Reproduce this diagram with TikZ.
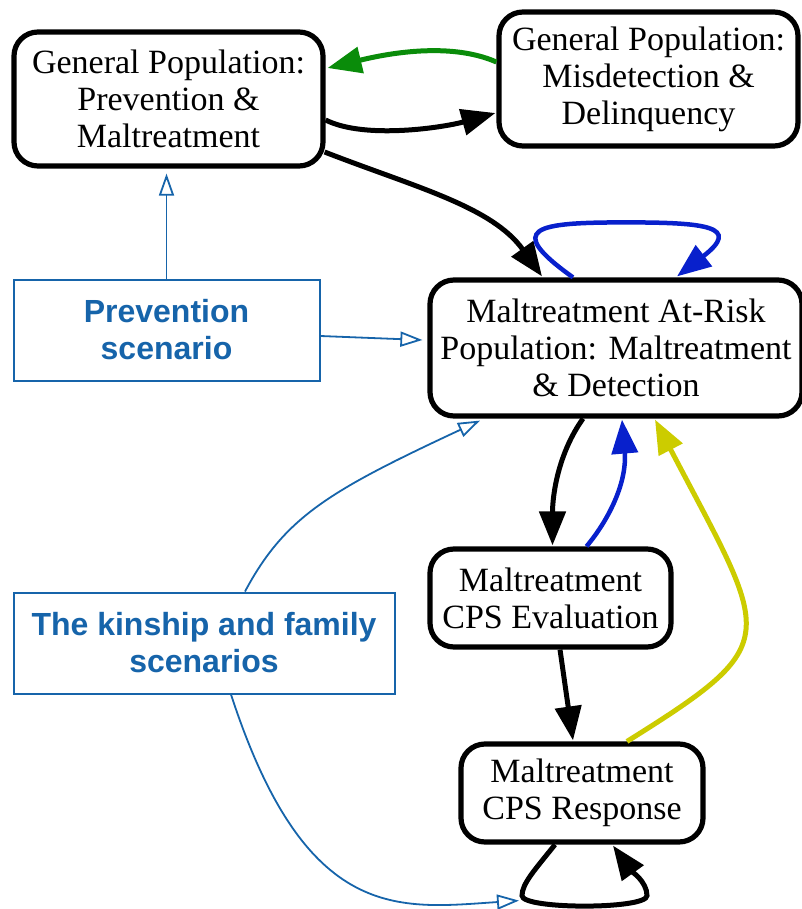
\documentclass[tikz,border=0pt]{standalone}
\usepackage{fontspec}
\setmainfont{Liberation Serif}
\newfontfamily\scenfont{Liberation Sans}
\usetikzlibrary{arrows.meta,calc}

\definecolor{scenblue}{RGB}{22,100,170}
\definecolor{loopblue}{RGB}{8,32,204}
\definecolor{flowgreen}{RGB}{10,140,10}
\definecolor{flowyellow}{RGB}{204,204,0}

\tikzset{
  statebox/.style={draw=black, line width=5.2pt, rounded corners=24pt, fill=white,
    align=center, inner sep=0pt, font=\fontsize{34}{37}\selectfont},
  scenbox/.style={draw=scenblue, line width=2pt, fill=white, align=center, inner sep=0pt,
    text=scenblue, font=\scenfont\bfseries\fontsize{32}{37}\selectfont},
  flow/.style={line width=5pt, -{Triangle[length=34pt,width=26pt]}},
  influence/.style={draw=scenblue, line width=1.8pt, -{Triangle[open,length=22pt,width=15pt]}},
}

\begin{document}
\begin{tikzpicture}[x=1pt, y=-1pt]
\useasboundingbox (0,0) rectangle (802,909);

% states of the model
\node[statebox, minimum width=309pt, minimum height=134pt] (GP1) at (168.5,99)
  {General Population:\\Prevention \&\\Maltreatment};
\node[statebox, minimum width=299pt, minimum height=134pt] (GP2) at (648.5,79)
  {General Population:\\Misdetection \&\\Delinquency};
\node[statebox, minimum width=372pt, minimum height=136pt] (AR) at (616,348)
  {Maltreatment At-Risk\\Population: Maltreatment\\\& Detection};
\node[statebox, minimum width=241pt, minimum height=98pt] (EV) at (550.5,598)
  {Maltreatment\\CPS Evaluation};
\node[statebox, minimum width=242pt, minimum height=98pt] (RS) at (582,793)
  {Maltreatment\\CPS Response};

% scenarios
\node[scenbox, minimum width=306pt, minimum height=101pt] (PV) at (166.5,330)
  {Prevention\\scenario};
\node[scenbox, minimum width=381pt, minimum height=101pt] (KF) at (204,643)
  {The kinship and family\\scenarios};

% flows between the general population states
\draw[flow, draw=flowgreen]
  ($(GP2.west)+(0,-17)$) .. controls +(-50,-22) and +(50,-12) .. ($(GP1.east)+(2,-31)$);
\draw[flow]
  ($(GP1.east)+(0,21)$) .. controls +(40,20) and +(-50,14) .. ($(GP2.west)+(-1,34)$);
\draw[flow]
  ($(GP1.east)+(-1,53)$) .. controls +(90,35) and +(-50,-70) .. ($(AR.north)+(-74,-1)$);

% self loop of the at-risk population
\coordinate (arTop) at ($(AR.north)+(10,-55)$);
\draw[flow, draw=loopblue, line width=4.5pt]
  ($(AR.north)+(-43,0)$) .. controls +(-70,-50) and +(-90,0) .. (arTop)
  .. controls +(80,0) and +(65,-50) .. ($(AR.north)+(61,-1)$);

% detection, evaluation and response
\draw[flow]
  ($(AR.south)+(-33,0)$) .. controls +(-25,35) and +(0,-50) .. ($(EV.north)+(2,-1)$);
\draw[flow, draw=loopblue, line width=4.5pt]
  ($(EV.north)+(36,0)$) .. controls +(25,-30) and +(5,60) .. ($(AR.south)+(6,1)$);
\draw[flow]
  ($(EV.south)+(9.5,0)$) -- ($(RS.north)+(-9,-1)$);
\draw[flow, draw=flowyellow]
  ($(RS.north)+(45,0)$) .. controls +(160,-100) and +(115,220) .. ($(AR.south)+(39,1)$);

% self loop of the response state
\coordinate (rsLeft) at ($(RS.south)+(-60,51)$);
\coordinate (rsRight) at ($(RS.south)+(65,51)$);
\draw[flow]
  ($(RS.south)+(-27,0)$) .. controls +(-20,25) and +(0,-12) .. (rsLeft)
  .. controls +(0,14) and +(0,14) .. (rsRight)
  .. controls +(0,-14) and +(18,25) .. ($(RS.south)+(31,1)$);

% scenario influences
\draw[influence] (PV.north) -- ($(PV.north |- GP1.south)+(0,5)$);
\draw[influence] ($(PV.east)+(0,6)$) -- ($(AR.west)+(-5,-8)$);
\draw[influence]
  ($(KF.north)+(41,0)$) .. controls +(40,-75) and +(-150,70) .. ($(AR.south)+(-136,2)$);
\draw[influence]
  ($(KF.south)+(27,0)$) .. controls +(75,230) and +(-120,8) .. ($(rsLeft)+(-3,5)$);
\end{tikzpicture}
\end{document}
